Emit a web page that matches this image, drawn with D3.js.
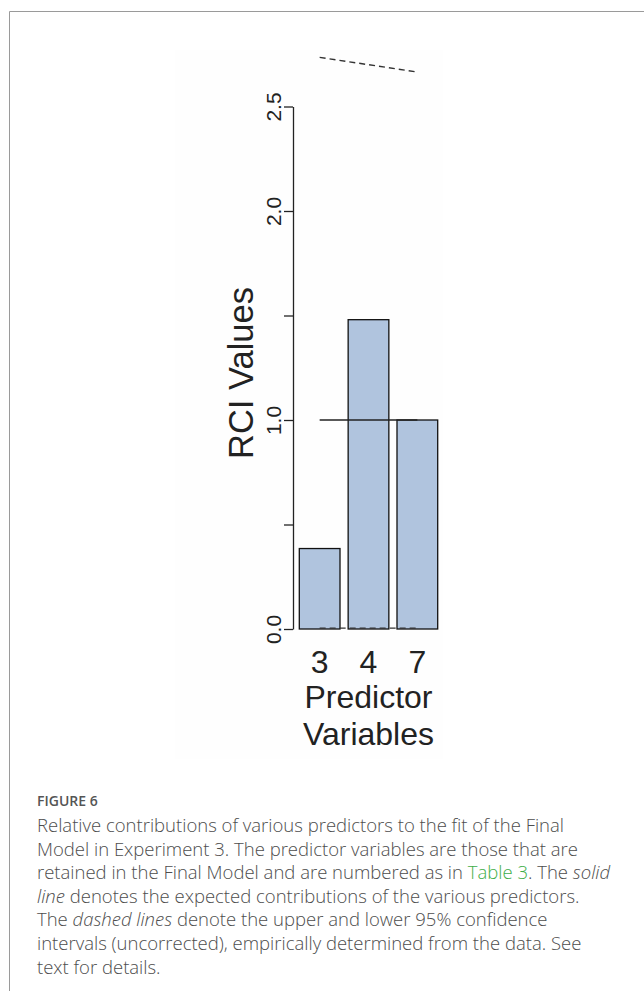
<!DOCTYPE html>
<html>
<head>
<meta charset="utf-8">
<script src="https://cdn.jsdelivr.net/npm/d3@7"></script>
<style>
  html, body { margin: 0; padding: 0; background: #ffffff; }
  svg { display: block; }
</style>
</head>
<body>
<svg id="chart" width="644" height="991"></svg>
<script>
// ---- data ----
const categories = ["3", "4", "7"];
const rciValues = [0.385, 1.48, 1.0];
const expectedValues = [1.0, 1.0, 1.0];
const upperCI = [2.735, 2.70, 2.665];
const lowerCI = [0.004, 0.004, 0.004];
const yTicks = [0, 0.5, 1.0, 1.5, 2.0, 2.5];
const yTickLabels = ["0.0", "", "1.0", "", "2.0", "2.5"];
const yTitle = "RCI Values";
const xTitleLines = ["Predictor", "Variables"];
const captionHead = "FIGURE 6";
const captionLines = [
  [["Relative contributions of various predictors to the fit of the Final", "n"]],
  [["Model in Experiment 3. The predictor variables are those that are", "n"]],
  [["retained in the Final Model and are numbered as in ", "n"], ["Table 3", "link"], [". The ", "n"], ["solid", "i"]],
  [["line", "i"], [" denotes the expected contributions of the various predictors.", "n"]],
  [["The ", "n"], ["dashed lines", "i"], [" denote the upper and lower 95% confidence", "n"]],
  [["intervals (uncorrected), empirically determined from the data. See", "n"]],
  [["text for details.", "n"]]
];

const svg = d3.select("#chart");

// frame
svg.append("path")
  .attr("d", "M9.5,991 V11.5 H644")
  .attr("fill", "none").attr("stroke", "#9a9a9a").attr("stroke-width", 1);

// faint image background
svg.append("rect").attr("x", 175).attr("y", 50).attr("width", 268).attr("height", 709)
  .attr("fill", "#fefefe");

// scales
const x = d3.scaleBand().domain(categories).range([299.3, 437.7])
  .paddingInner(0.2 / 1.2).paddingOuter(0);
const y = d3.scaleLinear().domain([0, 2.5]).range([629, 106.5]);
const cx = c => x(c) + x.bandwidth() / 2;

const font = "'Liberation Sans', Arial, sans-serif";

// bars
svg.append("g").selectAll("rect").data(categories).join("rect")
  .attr("x", d => x(d))
  .attr("y", (d, i) => y(rciValues[i]))
  .attr("width", x.bandwidth())
  .attr("height", (d, i) => y(0) - y(rciValues[i]))
  .attr("fill", "#b0c4de")
  .attr("stroke", "#111").attr("stroke-width", 1.3);

// lines
const line = d3.line().x(d => cx(d.c)).y(d => y(d.v));
const mk = arr => categories.map((c, i) => ({ c, v: arr[i] }));
svg.append("path").datum(mk(expectedValues)).attr("d", line)
  .attr("fill", "none").attr("stroke", "#222").attr("stroke-width", 1.3);
svg.append("path").datum(mk(upperCI)).attr("d", line)
  .attr("fill", "none").attr("stroke", "#333").attr("stroke-width", 1.4)
  .attr("stroke-dasharray", "6,4");
svg.append("path").datum(mk(lowerCI)).attr("d", line)
  .attr("fill", "none").attr("stroke", "#333").attr("stroke-width", 1.4)
  .attr("stroke-dasharray", "6,4");

// y axis
const yAxis = d3.axisLeft(y).tickValues(yTicks)
  .tickFormat((d, i) => yTickLabels[i]).tickSize(9).tickSizeOuter(0);
const gy = svg.append("g").attr("transform", "translate(293,0)").call(yAxis);
gy.select(".domain").attr("stroke", "#222").attr("stroke-width", 1.3);
gy.selectAll(".tick line").attr("stroke", "#222").attr("stroke-width", 1.3);
gy.selectAll(".tick text")
  .attr("x", null).attr("dy", null)
  .attr("transform", "translate(-12,0) rotate(-90)")
  .attr("text-anchor", "middle")
  .attr("font-family", font).attr("font-size", 21).attr("fill", "#222");

// x axis (names under bars)
const xAxis = d3.axisBottom(x).tickSize(0);
const gx = svg.append("g").attr("transform", "translate(0,673)").call(xAxis);
gx.select(".domain").remove();
gx.selectAll(".tick text").attr("y", 0).attr("dy", null)
  .attr("font-family", font).attr("font-size", 32).attr("fill", "#222");

// x title
svg.append("g").selectAll("text").data(xTitleLines).join("text")
  .attr("x", 368.5).attr("y", (d, i) => 708 + i * 36.5)
  .attr("text-anchor", "middle")
  .attr("font-family", font).attr("font-size", 32).attr("fill", "#222")
  .text(d => d);

// y title
svg.append("text")
  .attr("transform", "translate(253,373) rotate(-90)")
  .attr("text-anchor", "middle")
  .attr("font-family", font).attr("font-size", 34.5).attr("fill", "#222")
  .text(yTitle);

// caption
const capFont = "'Open Sans', 'Noto Sans', sans-serif";
svg.append("text").attr("x", 37).attr("y", 806)
  .attr("font-family", capFont).attr("font-size", 14).attr("font-weight", 600)
  .attr("fill", "#555").text(captionHead);

const cap = svg.append("g");
captionLines.forEach((segs, li) => {
  const t = cap.append("text").attr("x", 37).attr("y", 832 + li * 23.6)
    .attr("font-family", capFont).attr("font-size", 18.5).attr("font-weight", 300)
    .attr("fill", "#4d4d4d");
  segs.forEach(([txt, kind]) => {
    const s = t.append("tspan").text(txt);
    if (kind === "i") s.attr("font-style", "italic");
    if (kind === "link") s.attr("fill", "#3fae49");
  });
});
</script>
</body>
</html>
